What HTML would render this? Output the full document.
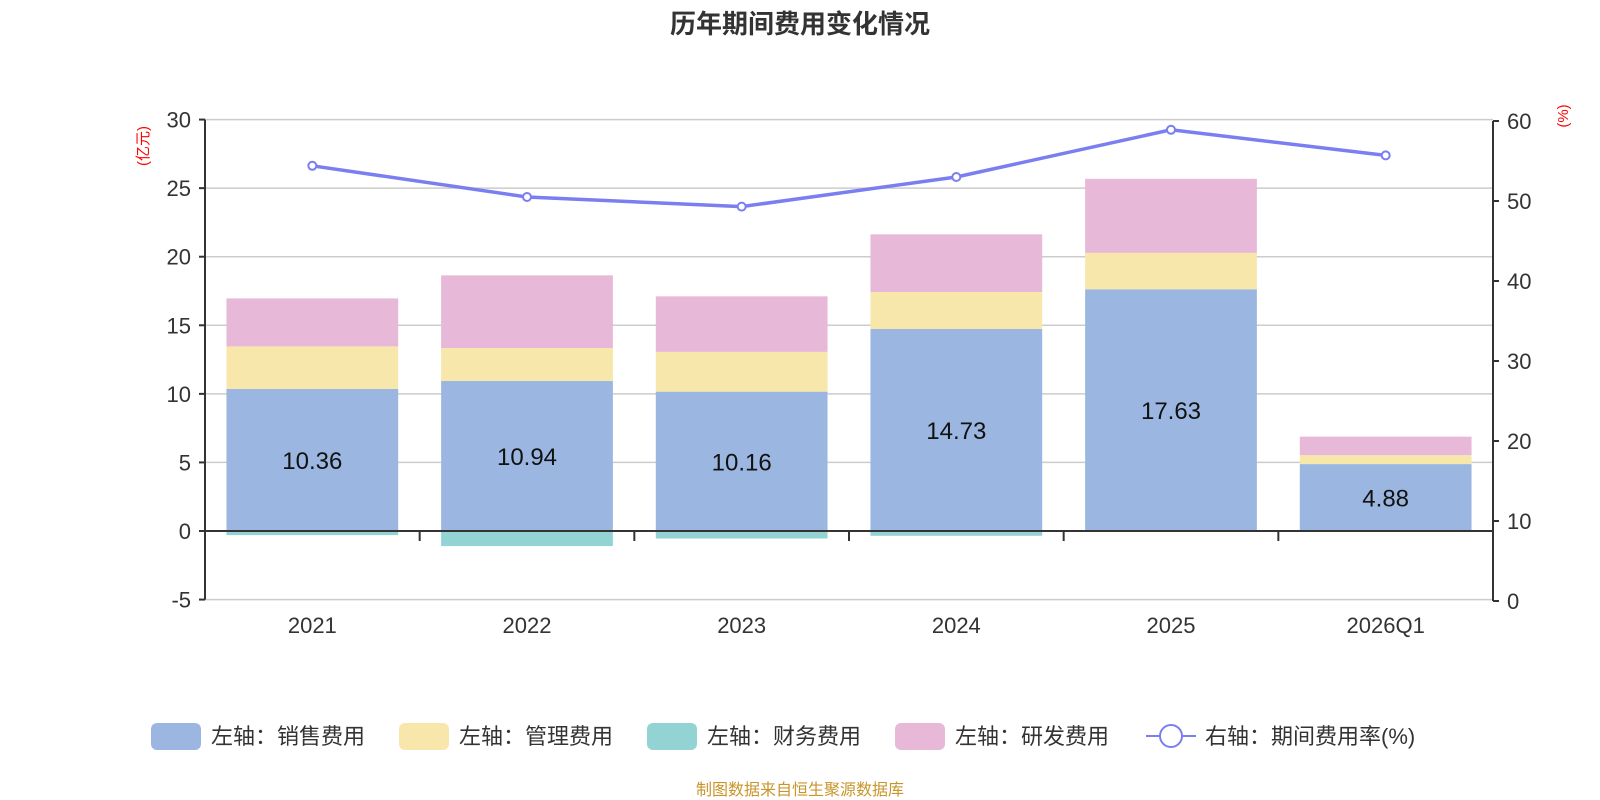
<!DOCTYPE html>
<html><head><meta charset="utf-8"><style>
body{margin:0;background:#fff;}
svg{display:block;font-family:"Liberation Sans","Noto Sans CJK SC",sans-serif;}
</style></head><body>
<svg id="c" width="1600" height="800">
<text x="800" y="33" text-anchor="middle" font-size="26" font-weight="bold" fill="#333">历年期间费用变化情况</text>
<text transform="translate(148,146) rotate(-90)" text-anchor="middle" font-size="15" fill="red">(亿元)</text>
<text transform="translate(1568,116) rotate(-90)" text-anchor="middle" font-size="15" fill="red">(%)</text>
<g id="grid"></g><g id="bars"></g><g id="axes"></g><g id="line"></g><g id="legend"></g>
<text x="800" y="795" text-anchor="middle" font-size="16" fill="#c8952a">制图数据来自恒生聚源数据库</text>
</svg>
<script>
const categories=["2021","2022","2023","2024","2025","2026Q1"];
const sales=[10.36,10.94,10.16,14.73,17.63,4.88];
const mgmt=[3.1,2.4,2.9,2.7,2.65,0.65];
const finance=[-0.3,-1.1,-0.55,-0.35,-0.05,-0.05];
const rnd=[3.5,5.3,4.05,4.2,5.4,1.35];
const rate=[54.4,50.5,49.3,53.0,58.9,55.7];
const leftTicks=[-5,0,5,10,15,20,25,30];
const rightTicks=[0,10,20,30,40,50,60];
const NS="http://www.w3.org/2000/svg";
const X0=205,X1=1493;
const yL=v=>531-(v)*(480/35);
const yR=v=>601-v*8;
const band=(X1-X0)/categories.length;
const xc=i=>X0+band*(i+0.5);
function mk(t,a,p){const e=document.createElementNS(NS,t);for(const k in a)e.setAttribute(k,a[k]);(p||document.getElementById('c')).appendChild(e);return e;}
const G=id=>document.getElementById(id);
leftTicks.forEach(v=>{
 const l=mk('line',{x1:X0,x2:X1,y1:yL(v),y2:yL(v),stroke:'#ccc','stroke-width':1.5},G('grid'));
 
 
 const tk=mk('line',{x1:X0-6,x2:X0,y1:yL(v),y2:yL(v),stroke:'#333','stroke-width':2},G('axes'));
 const t=mk('text',{x:X0-14,y:yL(v)+8,'text-anchor':'end','font-size':22,fill:'#333'},G('axes'));t.textContent=v;
 
 
});
rightTicks.forEach(v=>{
 mk('line',{x1:X1,x2:X1+6,y1:yR(v),y2:yR(v),stroke:'#333','stroke-width':2},G('axes'));
 const t=mk('text',{x:X1+14,y:yR(v)+8,'font-size':22,fill:'#333'},G('axes'));t.textContent=v;
 
 
});
mk('line',{x1:X0,x2:X0,y1:yL(30),y2:yL(-5),stroke:'#333','stroke-width':2},G('axes'));
mk('line',{x1:X1,x2:X1,y1:yR(60),y2:yR(0),stroke:'#333','stroke-width':2},G('axes'));
mk('line',{x1:X0,x2:X1,y1:yL(0),y2:yL(0),stroke:'#333','stroke-width':2},G('axes'));
categories.forEach((c,i)=>{
 if(i>0)mk('line',{x1:X0+band*i,x2:X0+band*i,y1:yL(0),y2:yL(0)+10,stroke:'#333','stroke-width':2},G('axes'));
 const t=mk('text',{x:xc(i),y:633,'text-anchor':'middle','font-size':22,fill:'#333'},G('axes'));t.textContent=c;
 
 
});
const bw=band*0.8;
function rect(i,a,b,col,name){const y=Math.min(yL(a),yL(b)),h=Math.abs(yL(a)-yL(b));
 const r=mk('rect',{x:xc(i)-bw/2,y:y,width:bw,height:h,fill:col},G('bars'));
 
 }
categories.forEach((c,i)=>{
 rect(i,0,sales[i],'#9bb7e1','bar-sales');
 rect(i,sales[i],sales[i]+mgmt[i],'#f7e7aa','bar-management');
 rect(i,sales[i]+mgmt[i],sales[i]+mgmt[i]+rnd[i],'#e7b8d8','bar-rnd');
 rect(i,0,finance[i],'#94d3d4','bar-finance');
 const t=mk('text',{x:xc(i),y:yL(sales[i]/2)+9,'text-anchor':'middle','font-size':24,fill:'#111'},G('bars'));t.textContent=sales[i].toFixed(2);
 
 
});
const p=mk('polyline',{points:rate.map((v,i)=>xc(i)+','+yR(v)).join(' '),fill:'none',stroke:'#7b7ef0','stroke-width':3.5},G('line'));


rate.forEach((v,i)=>{const c=mk('circle',{cx:xc(i),cy:yR(v),r:4,fill:'#fff',stroke:'#7b7ef0','stroke-width':2},G('line'));
 
 });
const leg=[["左轴：销售费用",'#9bb7e1',151],["左轴：管理费用",'#f7e7aa',399],["左轴：财务费用",'#94d3d4',647],["左轴：研发费用",'#e7b8d8',895]];
leg.forEach(l=>{const g=mk('g',{},G('legend'));
 
 
 mk('rect',{x:l[2],y:723,width:50,height:27,rx:6,fill:l[1]},g);
 const t=mk('text',{x:l[2]+60,y:744,'font-size':22,fill:'#333'},g);t.textContent=l[0];});
const g=mk('g',{},G('legend'));


mk('line',{x1:1146,x2:1196,y1:736,y2:736,stroke:'#7b7ef0','stroke-width':2},g);
mk('circle',{cx:1171,cy:736,r:11,fill:'#fff',stroke:'#7b7ef0','stroke-width':2},g);
const t=mk('text',{x:1205,y:744,'font-size':22,fill:'#333'},g);t.textContent="右轴：期间费用率(%)";
</script>
</body></html>
